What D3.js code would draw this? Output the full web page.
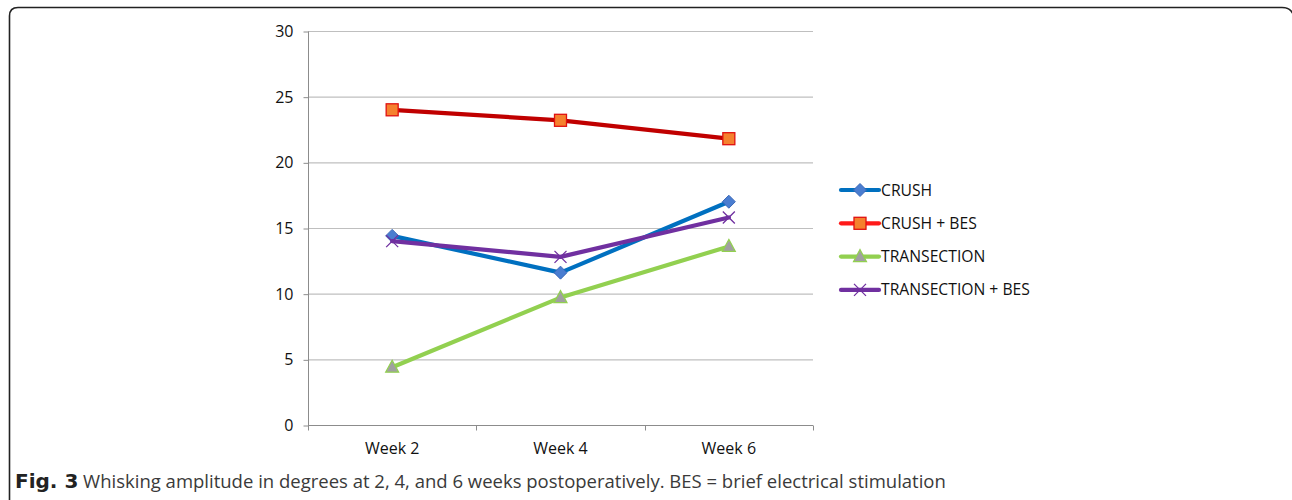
<!DOCTYPE html>
<html>
<head>
<meta charset="utf-8">
<script src="https://cdn.jsdelivr.net/npm/d3@7"></script>
<style>
  html, body { margin: 0; padding: 0; background: #fff; }
  svg { display: block; }
</style>
</head>
<body>
<svg id="chart" width="1292" height="500"></svg>
<script>
// Whisking amplitude (degrees) by week and treatment group
const weeks = ["Week 2", "Week 4", "Week 6"];
const seriesNames = ["CRUSH", "CRUSH + BES", "TRANSECTION", "TRANSECTION + BES"];
const crush = [14.4, 11.6, 17.0];
const crushBes = [24.0, 23.2, 21.8];
const transection = [4.4, 9.7, 13.6];
const transectionBes = [14.0, 12.8, 15.8];
const yTicks = [0, 5, 10, 15, 20, 25, 30];
const caption = "Whisking amplitude in degrees at 2, 4, and 6 weeks postoperatively. BES = brief electrical stimulation";

const styles = [
  { line: "#0070C0", legendLine: "#0070C0", marker: "diamond", fill: "#4A7DD0", stroke: "#3A68B8" },
  { line: "#C00000", legendLine: "#FF1A1A", marker: "square", fill: "#F5812E", stroke: "#E01010" },
  { line: "#92D050", legendLine: "#92D050", marker: "triangle", fill: "#A0A0A0", stroke: "#92D050" },
  { line: "#7030A0", legendLine: "#7030A0", marker: "cross", fill: "none", stroke: "#7030A0" }
];
const data = [crush, crushBes, transection, transectionBes];

const svg = d3.select("#chart");
const font = "'Open Sans', 'Noto Sans', sans-serif";

// Panel frame
svg.append("path")
  .attr("d", "M9.5,520 L9.5,16 Q9.5,7.5 18,7.5 L1282,7.5 Q1290,7.5 1293,14")
  .attr("fill", "none").attr("stroke", "#222").attr("stroke-width", 1.6);

const x = d3.scaleBand().domain(weeks).range([308, 813]);
const y = d3.scaleLinear().domain([0, 30]).range([425, 31]);

// Gridlines
svg.append("g").selectAll("line").data(yTicks.filter(d => d > 0)).join("line")
  .attr("x1", 308).attr("x2", 813)
  .attr("y1", d => y(d) + 0.5).attr("y2", d => y(d) + 0.5)
  .attr("stroke", "#BFBFBF").attr("stroke-width", 1.2);

// Y axis
const yAxis = svg.append("g").attr("transform", "translate(308.5,0.5)")
  .call(d3.axisLeft(y).tickValues(yTicks).tickSize(5).tickPadding(10));
yAxis.select(".domain").attr("stroke", "#8C8C8C").attr("d", `M0,${y(30)}V${y(0)}`);
yAxis.selectAll(".tick line").attr("stroke", "#8C8C8C");
yAxis.selectAll(".tick text").attr("font-family", font).attr("font-size", 16).attr("fill", "#111");

// X axis
const xAxis = svg.append("g").attr("transform", `translate(0,${y(0) + 0.5})`);
xAxis.append("line").attr("x1", 308).attr("x2", 813).attr("stroke", "#8C8C8C").attr("stroke-width", 1.2);
xAxis.selectAll("line.tk").data([308, ...weeks.map(w => x(w) + x.bandwidth())]).join("line")
  .attr("class", "tk")
  .attr("x1", d => Math.round(d) + 0.5).attr("x2", d => Math.round(d) + 0.5)
  .attr("y1", 0).attr("y2", 5).attr("stroke", "#8C8C8C");
xAxis.selectAll("text").data(weeks).join("text")
  .attr("x", d => x(d) + x.bandwidth() / 2).attr("y", 28)
  .attr("text-anchor", "middle").attr("font-family", font).attr("font-size", 16).attr("fill", "#111")
  .text(d => d);

const cx = w => x(w) + x.bandwidth() / 2;

function drawMarker(g, type, st, px, py) {
  if (type === "diamond") {
    g.append("path").attr("d", `M${px},${py - 6.5}L${px + 6.5},${py}L${px},${py + 6.5}L${px - 6.5},${py}Z`)
      .attr("fill", st.fill).attr("stroke", st.stroke).attr("stroke-width", 1);
  } else if (type === "square") {
    g.append("rect").attr("x", px - 6).attr("y", py - 6).attr("width", 12).attr("height", 12)
      .attr("fill", st.fill).attr("stroke", st.stroke).attr("stroke-width", 1.3);
  } else if (type === "triangle") {
    g.append("path").attr("d", `M${px},${py - 7}L${px + 6.5},${py + 5}L${px - 6.5},${py + 5}Z`)
      .attr("fill", st.fill).attr("stroke", st.stroke).attr("stroke-width", 1.2);
  } else {
    g.append("path").attr("d", `M${px - 6},${py - 6}L${px + 6},${py + 6}M${px + 6},${py - 6}L${px - 6},${py + 6}`)
      .attr("stroke", st.stroke).attr("stroke-width", 1.3);
  }
}

const line = d3.line().x((d, i) => cx(weeks[i])).y(d => y(d));

// Series lines and markers
data.forEach((vals, si) => {
  const st = styles[si];
  const g = svg.append("g");
  g.append("path").datum(vals).attr("d", line)
    .attr("fill", "none").attr("stroke", st.line).attr("stroke-width", 4.2)
    .attr("stroke-linejoin", "round").attr("stroke-linecap", "round");
  vals.forEach((v, i) => drawMarker(g, st.marker, st, cx(weeks[i]), y(v)));
});

// Legend
const legend = svg.append("g");
seriesNames.forEach((name, i) => {
  const st = styles[i];
  const ly = 190 + i * 33.3;
  const g = legend.append("g");
  g.append("line").attr("x1", 841).attr("x2", 879).attr("y1", ly).attr("y2", ly)
    .attr("stroke", st.legendLine).attr("stroke-width", 4.2).attr("stroke-linecap", "round");
  drawMarker(g, st.marker, st, 860, ly);
  g.append("text").attr("x", 881).attr("y", ly + 5.5)
    .attr("font-family", font).attr("font-size", 15.7).attr("fill", "#111").text(name);
});

// Caption
const cap = svg.append("text").attr("x", 15).attr("y", 488)
  .attr("font-family", font).attr("font-size", 18.5).attr("fill", "#3a3a3a");
cap.append("tspan").attr("font-weight", "bold").attr("fill", "#222")
  .attr("font-family", "'DejaVu Sans', sans-serif").attr("font-size", 20).text("Fig. 3");
cap.append("tspan").text(" " + caption);
</script>
</body>
</html>
